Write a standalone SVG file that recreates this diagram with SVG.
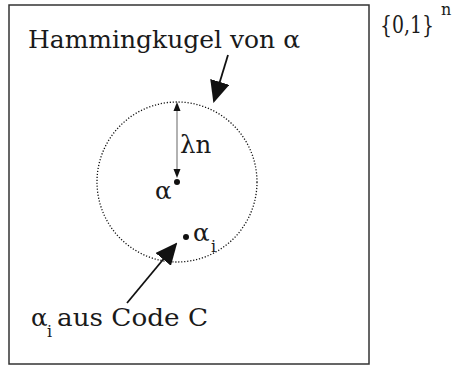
<svg xmlns="http://www.w3.org/2000/svg" width="455" height="367" viewBox="0 0 455 367">
<style>
text{font-family:"DejaVu Serif","Liberation Serif",serif;fill:#1a1a1a;font-size:24.5px}
.sub{font-size:16px}
.set{font-size:24px}
</style>
<defs>
<marker id="bigA" markerWidth="22" markerHeight="20" refX="20" refY="10" orient="auto" markerUnits="userSpaceOnUse" viewBox="0 0 22 20"><path d="M0,0 L22,10 L0,20 z" fill="#111"/></marker>
</defs>
<g id="space">
<rect x="9" y="5" width="360" height="359" fill="none" stroke="#333" stroke-width="1.5"/>
<text x="380" y="33" class="set" textLength="54" lengthAdjust="spacingAndGlyphs">{0,1}</text><text x="441" y="15" class="sub">n</text>
</g>
<g id="ball">
<circle cx="177" cy="182" r="80" fill="none" stroke="#111" stroke-width="1.3" stroke-dasharray="1.2 1.8"/>
</g>
<g id="center">
<circle cx="177" cy="182" r="3" fill="#111"/>
<text x="155" y="199">α</text>
</g>
<g id="codeword">
<circle cx="186" cy="237" r="3" fill="#111"/>
<text x="193" y="241">α</text><text x="211" y="252" class="sub">i</text>
</g>
<g id="label-hamming"><text x="28" y="48" textLength="272" lengthAdjust="spacingAndGlyphs">Hammingkugel von α</text></g>
<g id="label-code"><text x="31" y="326">α</text><text x="47" y="337" class="sub">i</text><text x="57" y="326" textLength="151" lengthAdjust="spacingAndGlyphs">aus Code C</text></g>
<g id="connectors">
<path d="M177,110 L177,172" stroke="#999" stroke-width="1.5" fill="none"/>
<path d="M173.5,111 L177,102 L180.5,111 z" fill="#111"/>
<path d="M173.5,169 L177,178 L180.5,169 z" fill="#111"/>
<line x1="228" y1="55" x2="214" y2="101" stroke="#111" stroke-width="1.8" marker-end="url(#bigA)"/>
<line x1="127" y1="303" x2="176" y2="244" stroke="#111" stroke-width="1.8" marker-end="url(#bigA)"/>
<text x="180" y="153">λn</text>
</g>
</svg>
